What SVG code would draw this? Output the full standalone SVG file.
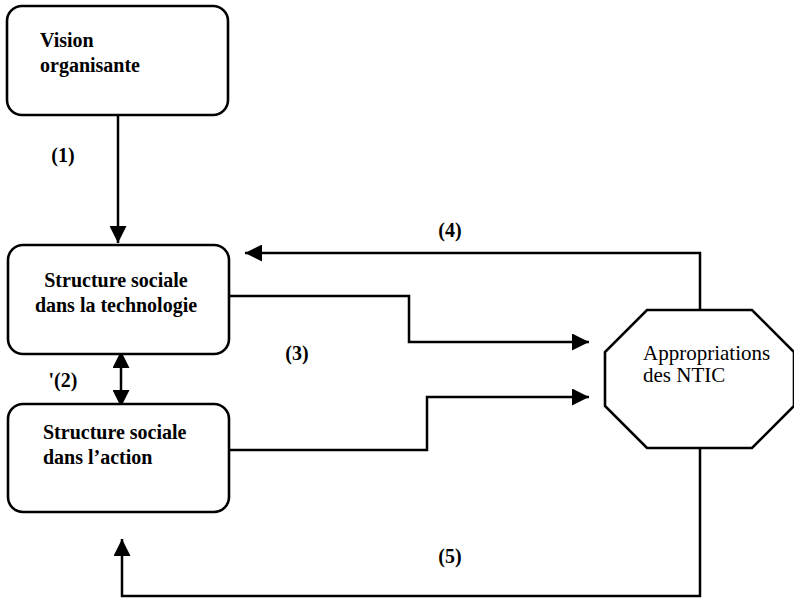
<svg xmlns="http://www.w3.org/2000/svg" width="794" height="598" viewBox="0 0 794 598">
<style>
.box{fill:#fff;stroke:#000;stroke-width:2.6}
.con{fill:none;stroke:#000;stroke-width:2.5}
.t{font-family:"Liberation Serif","Times New Roman",serif;font-weight:bold;font-size:20px;fill:#000}
.r{font-family:"Liberation Serif","Times New Roman",serif;font-size:21px;fill:#000}
.lab{font-family:"Liberation Serif","Times New Roman",serif;font-weight:bold;font-size:20px;fill:#000;text-anchor:middle}
</style>
<defs>
<marker id="ah" viewBox="0 0 10 10" refX="10" refY="5" markerWidth="18" markerHeight="17" markerUnits="userSpaceOnUse" orient="auto-start-reverse">
<path d="M0,0 L10,5 L0,10 z" fill="#000"/>
</marker>
</defs>
<g id="connectors">
<path class="con" d="M118,115 V243" marker-end="url(#ah)"/>
<path class="con" d="M121,351 V407" marker-start="url(#ah)" marker-end="url(#ah)"/>
<path class="con" d="M230,296 H409 V342 H589" marker-end="url(#ah)"/>
<path class="con" d="M230,450 H427 V397 H589" marker-end="url(#ah)"/>
<path class="con" d="M700,310 V253 H245" marker-end="url(#ah)"/>
<path class="con" d="M700,448 V596 H122 V539" marker-end="url(#ah)"/>
<text class="lab" x="63" y="162">(1)</text>
<text class="lab" x="63" y="387">'(2)</text>
<text class="lab" x="297" y="360">(3)</text>
<text class="lab" x="450" y="237">(4)</text>
<text class="lab" x="450" y="563">(5)</text>
</g>
<g id="vision">
<rect class="box" x="7" y="6" width="221" height="109" rx="15"/>
<text class="t" x="40" y="47">Vision</text>
<text class="t" x="40" y="72">organisante</text>
</g>
<g id="structure-technologie">
<rect class="box" x="8" y="245" width="221" height="109" rx="15"/>
<text class="t" x="116" y="287" text-anchor="middle">Structure sociale</text>
<text class="t" x="116" y="312" text-anchor="middle">dans la technologie</text>
</g>
<g id="structure-action">
<rect class="box" x="8" y="404" width="221" height="108" rx="15"/>
<text class="t" x="43" y="439">Structure sociale</text>
<text class="t" x="43" y="464">dans l’action</text>
</g>
<g id="appropriations">
<polygon class="box" points="647,310 752,310 794,352 794,406 752,448 647,448 605,406 605,352"/>
<text class="r" x="643" y="360">Appropriations</text>
<text class="r" x="643" y="382">des NTIC</text>
</g>
</svg>
